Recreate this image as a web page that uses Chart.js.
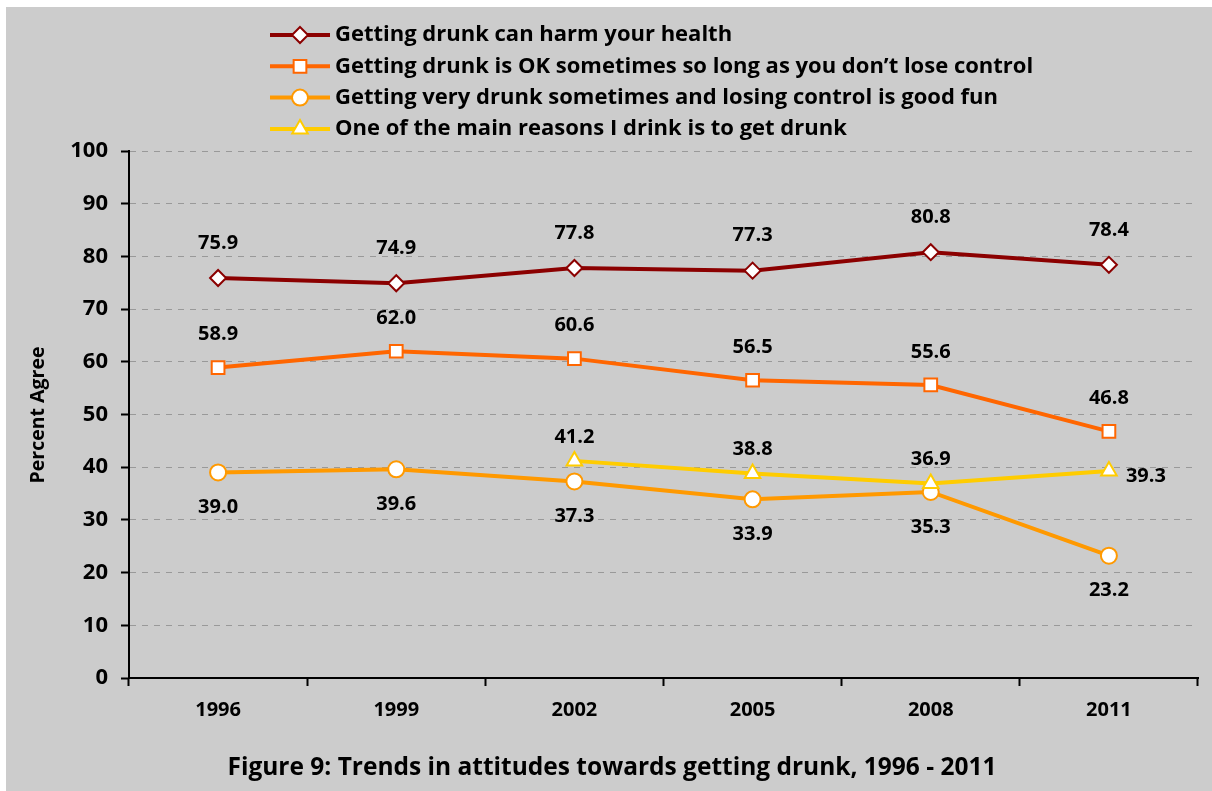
<!DOCTYPE html>
<html>
<head>
<meta charset="utf-8">
<script src="https://cdn.jsdelivr.net/npm/chart.js@4.4.0/dist/chart.umd.min.js"></script>
<style>
  body { margin: 0; background: #ffffff; }
  #myChart { position: absolute; left: 6px; top: 7px; background: #cccccc; }
</style>
</head>
<body>
<canvas id="myChart" width="1206" height="784"></canvas>
<script>
// 데이터
const years = ['1996', '1999', '2002', '2005', '2008', '2011'];
const harmHealth = [75.9, 74.9, 77.8, 77.3, 80.8, 78.4];
const okSometimes = [58.9, 62.0, 60.6, 56.5, 55.6, 46.8];
const goodFun = [39.0, 39.6, 37.3, 33.9, 35.3, 23.2];
const toGetDrunk = [null, null, 41.2, 38.8, 36.9, 39.3];
const yTicks = [0, 10, 20, 30, 40, 50, 60, 70, 80, 90, 100];

const FONT = '"Open Sans", Lato, sans-serif';

// 점 모양 그리기 (범례용)
function drawMarker(ctx, style, x, y, r, color) {
	ctx.save();
	ctx.fillStyle = '#ffffff';
	ctx.strokeStyle = color;
	ctx.lineWidth = 2;
	ctx.beginPath();
	if (style === 'rectRot') {
		ctx.moveTo(x, y - r); ctx.lineTo(x + r, y); ctx.lineTo(x, y + r); ctx.lineTo(x - r, y);
		ctx.closePath();
	} else if (style === 'rect') {
		const s = r * Math.SQRT1_2;
		ctx.rect(x - s, y - s, 2 * s, 2 * s);
	} else if (style === 'circle') {
		ctx.arc(x, y, r, 0, Math.PI * 2);
	} else if (style === 'triangle') {
		ctx.moveTo(x, y - r);
		ctx.lineTo(x + r * Math.cos(Math.PI / 6), y + r / 2);
		ctx.lineTo(x - r * Math.cos(Math.PI / 6), y + r / 2);
		ctx.closePath();
	}
	ctx.fill();
	ctx.stroke();
	ctx.restore();
}

// 범례, 값 라벨, 제목
const extras = {
	id: 'extras',
	afterDatasetsDraw(chart) {
		const ctx = chart.ctx;
		ctx.save();
		ctx.fillStyle = '#000000';
		ctx.font = 'bold 20px ' + FONT;
		ctx.textBaseline = 'middle';
		chart.data.datasets.forEach((ds, i) => {
			const meta = chart.getDatasetMeta(i);
			meta.data.forEach((pt, j) => {
				const v = ds.data[j];
				if (v === null) return;
				const pos = ds.labelPos[j];
				let x = pt.x, y = pt.y;
				ctx.textAlign = 'center';
				if (pos === 'above') y -= ds.labelGap;
				else if (pos === 'below') y += ds.labelGap;
				else { ctx.textAlign = 'left'; x += 17; y += 5; }
				ctx.fillText(v.toFixed(1), x, y);
			});
		});
		ctx.restore();
	},
	afterDraw(chart) {
		const ctx = chart.ctx;
		ctx.save();
		// 범례
		chart.data.datasets.forEach((ds, i) => {
			const y = 28 + i * 31.3;
			ctx.strokeStyle = ds.borderColor;
			ctx.lineWidth = 4;
			ctx.beginPath();
			ctx.moveTo(264, y);
			ctx.lineTo(324, y);
			ctx.stroke();
			drawMarker(ctx, ds.pointStyle, 294, y, ds.pointRadius, ds.borderColor);
			ctx.fillStyle = '#000000';
			ctx.font = 'bold 22px ' + FONT;
			ctx.textAlign = 'left';
			ctx.textBaseline = 'middle';
			ctx.fillText(ds.label, 329, y);
		});
		// y축 제목
		ctx.save();
		ctx.translate(32, 408);
		ctx.rotate(-Math.PI / 2);
		ctx.font = 'bold 19.5px ' + FONT;
		ctx.textAlign = 'center';
		ctx.textBaseline = 'middle';
		ctx.fillText('Percent Agree', 0, 0);
		ctx.restore();
		// 그림 제목
		ctx.font = 'bold 24.5px ' + FONT;
		ctx.textAlign = 'center';
		ctx.textBaseline = 'middle';
		ctx.fillText('Figure 9: Trends in attitudes towards getting drunk, 1996 - 2011', 606, 761);
		ctx.restore();
	}
};

const chartArea = document.getElementById('myChart').getContext('2d');
const myChart = new Chart(chartArea, {
	type: 'line',
	data: {
		labels: years,
		datasets: [
			{
				label: 'Getting drunk can harm your health',
				data: harmHealth,
				borderColor: '#8b0000',
				backgroundColor: '#ffffff',
				borderWidth: 4,
				pointStyle: 'rectRot',
				pointRadius: 8,
				pointBorderWidth: 2,
				labelPos: ['above', 'above', 'above', 'above', 'above', 'above'],
				labelGap: 35,
				order: 3,
			},
			{
				label: 'Getting drunk is OK sometimes so long as you don\u2019t lose control',
				data: okSometimes,
				borderColor: '#ff6600',
				backgroundColor: '#ffffff',
				borderWidth: 4,
				pointStyle: 'rect',
				pointRadius: 9,
				pointBorderWidth: 2,
				labelPos: ['above', 'above', 'above', 'above', 'above', 'above'],
				labelGap: 33,
				order: 2,
			},
			{
				label: 'Getting very drunk sometimes and losing control is good fun',
				data: goodFun,
				borderColor: '#ff9900',
				backgroundColor: '#ffffff',
				borderWidth: 4,
				pointStyle: 'circle',
				pointRadius: 8,
				pointBorderWidth: 2,
				labelPos: ['below', 'below', 'below', 'below', 'below', 'below'],
				labelGap: 35,
				order: 1,
			},
			{
				label: 'One of the main reasons I drink is to get drunk',
				data: toGetDrunk,
				borderColor: '#ffcc00',
				backgroundColor: '#ffffff',
				borderWidth: 4,
				pointStyle: 'triangle',
				pointRadius: 9,
				pointBorderWidth: 2,
				labelPos: ['above', 'above', 'above', 'above', 'above', 'right'],
				labelGap: 24,
				order: 0,
			},
		],
	},
	options: {
		responsive: false,
		animation: false,
		devicePixelRatio: 1,
		layout: {
			padding: { top: 144, right: 14, bottom: 0, left: 0 },
		},
		plugins: {
			legend: { display: false },
			tooltip: { enabled: false },
		},
		scales: {
			x: {
				offset: true,
				grid: {
					offset: true,
					drawOnChartArea: false,
					tickLength: 8,
					tickColor: '#000000',
					tickWidth: 2,
				},
				border: { color: '#000000', width: 2 },
				ticks: {
					color: '#000000',
					font: { family: FONT, size: 20, weight: 'bold' },
					padding: 12,
				},
				afterFit(scale) {
					scale.height = 113;
				},
			},
			y: {
				min: 0,
				max: 100,
				afterBuildTicks(scale) {
					scale.ticks = yTicks.map((v) => ({ value: v }));
				},
				grid: {
					color: '#999999',
					lineWidth: 1,
					tickLength: 8,
					tickColor: '#000000',
					tickWidth: 2,
				},
				border: { color: '#000000', width: 2, dash: [6, 6] },
				ticks: {
					color: '#000000',
					font: { family: FONT, size: 22, weight: 'bold' },
					padding: 13,
				},
				afterFit(scale) {
					scale.width = 123;
				},
			},
		},
	},
	plugins: [extras],
});
</script>
</body>
</html>
